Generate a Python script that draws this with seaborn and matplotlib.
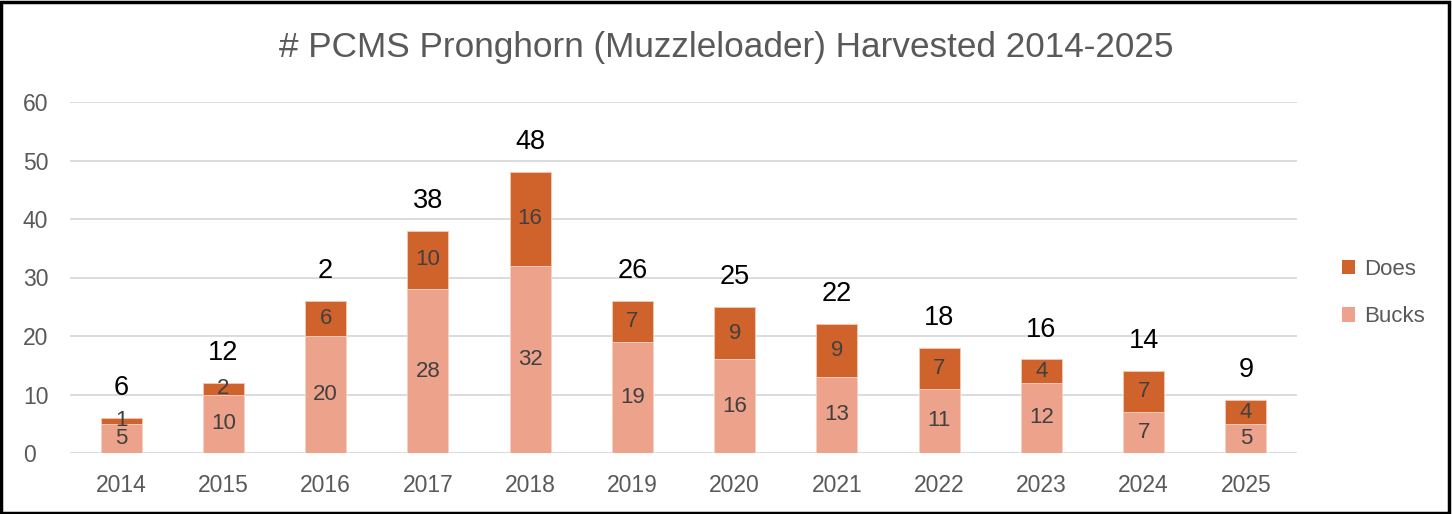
import matplotlib
matplotlib.use("Agg")
import matplotlib.pyplot as plt
import seaborn as sns
import pandas as pd
from matplotlib.patches import Rectangle, Patch

years = ["2014", "2015", "2016", "2017", "2018", "2019", "2020", "2021", "2022", "2023", "2024", "2025"]
bucks = [5, 10, 20, 28, 32, 19, 16, 13, 11, 12, 7, 5]
does = [1, 2, 6, 10, 16, 7, 9, 9, 7, 4, 7, 4]
total_labels = ["6", "12", "2", "38", "48", "26", "25", "22", "18", "16", "14", "9"]

title = "# PCMS Pronghorn (Muzzleloader) Harvested 2014-2025"
DOES_C = "#D0632C"
BUCKS_C = "#EDA28B"

sns.set_theme(style="white")
plt.rcParams["font.family"] = ["Liberation Sans", "DejaVu Sans"]

df = pd.DataFrame({"year": years, "bucks": bucks, "does": does})
df["total"] = df["bucks"] + df["does"]

fig = plt.figure(figsize=(14.52, 5.14), dpi=100)
ax = fig.add_axes([70/1452, 61/514, (1297-70)/1452, (453-102)/514])

sns.barplot(data=df, x="year", y="total", color=DOES_C, saturation=1, width=0.4,
            edgecolor="#F4C9B5", linewidth=0.6, ax=ax, zorder=3)
sns.barplot(data=df, x="year", y="bucks", color=BUCKS_C, saturation=1, width=0.4,
            edgecolor="#F8D5C8", linewidth=0.6, ax=ax, zorder=3)

ax.set_ylim(0, 60)
ax.set_xlim(-0.5, len(years) - 0.5)
ax.set_yticks(range(0, 61, 10))
ax.yaxis.grid(True, color="#D9D9D9", linewidth=1.3, zorder=0)
ax.set_axisbelow(True)
for s in ax.spines.values():
    s.set_visible(False)
ax.set_xlabel("")
ax.set_ylabel("")
ax.tick_params(axis="both", length=0, labelsize=16.5, labelcolor="#595959")
ax.tick_params(axis="x", pad=15)
ax.tick_params(axis="y", pad=34)
for lab in ax.get_yticklabels():
    lab.set_horizontalalignment("left")

for i in range(len(years)):
    b, d = bucks[i], does[i]
    ax.text(i, b / 2, str(b), ha="center", va="center", fontsize=16, color="#404040", zorder=5)
    ax.text(i, b + d / 2, str(d), ha="center", va="center", fontsize=16, color="#404040", zorder=5)
    ax.annotate(total_labels[i], (i, b + d), xytext=(0, 21.5), textcoords="offset points",
                ha="center", va="center", fontsize=19.5, color="black")

fig.text(0.5, 1 - 47/514, title, ha="center", va="center", fontsize=25.3, color="#595959")

handles = [Patch(facecolor=DOES_C, edgecolor="none"), Patch(facecolor=BUCKS_C, edgecolor="none")]
fig.legend(handles, ["Does", "Bucks"], loc="center left", bbox_to_anchor=(1322/1452, 1 - 293/514),
           frameon=False, fontsize=16, labelcolor="#595959", handlelength=0.6, handleheight=0.6,
           handletextpad=0.4, labelspacing=1.2)

fig.patches.append(Rectangle((0.001, 0.002), 0.997, 0.995, transform=fig.transFigure,
                             fill=False, edgecolor="black", linewidth=2.5))

fig.savefig("out.png", dpi=100)
